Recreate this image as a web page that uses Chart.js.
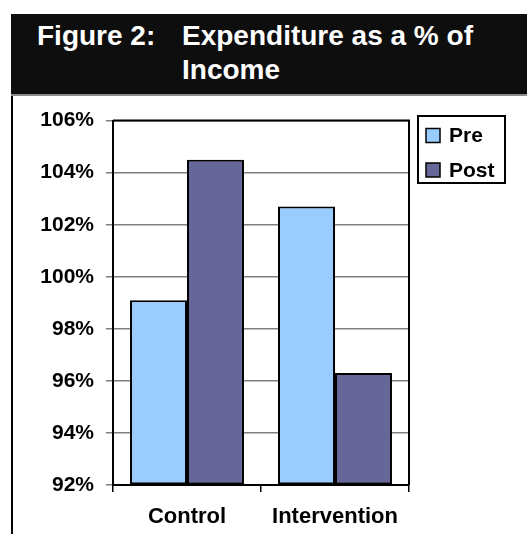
<!DOCTYPE html>
<html>
<head>
<meta charset="utf-8">
<title>Expenditure as a % of Income</title>
<script src="https://cdn.jsdelivr.net/npm/chart.js@4/dist/chart.umd.min.js"></script>
<style>
    html, body { margin: 0; padding: 0; background: #fff; }
    body { width: 527px; height: 534px; position: relative; overflow: hidden;
           font-family: 'Liberation Sans', Arial, sans-serif; }
    #frame-left { position: absolute; left: 11px; top: 14px; width: 2px; height: 520px; background: #000; }
    #title-bar { position: absolute; left: 11px; top: 14px; width: 516px; height: 80px;
                 background: #0e0e0e; border-bottom: 2px solid #8c8c8c; }
    #title-bar span { position: absolute; top: 5px; color: #fff; font-weight: bold;
                      font-size: 28px; line-height: 34px; white-space: nowrap; }
    #fig-no { left: 26px; }
    #fig-name { left: 171px; }
    #chart-wrap { position: absolute; left: 0; top: 96px; width: 527px; height: 438px; }
</style>
</head>
<body>
<div id="frame-left"></div>
<div id="title-bar">
    <span id="fig-no">Figure 2:</span>
    <span id="fig-name">Expenditure as a % of<br>Income</span>
</div>
<div id="chart-wrap"><canvas id="chart" width="527" height="438"></canvas></div>

<script>
// Expenditure as a share of income, before and after, per group
const groups = ['Control', 'Intervention'];
const preValues = [99.1, 102.7];
const postValues = [104.5, 96.3];
const seriesNames = ['Pre', 'Post'];
const yMin = 92;
const yMax = 106;
const yStep = 2;

const FONT = "'Liberation Sans', Arial, sans-serif";

// Boxed legend drawn inside the right margin
const boxLegend = {
    id: 'boxLegend',
    afterDraw(chart, args, opts) {
        const ctx = chart.ctx;
        ctx.save();
        ctx.lineWidth = 2;
        ctx.strokeStyle = '#000';
        ctx.fillStyle = '#fff';
        ctx.fillRect(opts.x, opts.y, opts.width, opts.height);
        ctx.strokeRect(opts.x, opts.y, opts.width, opts.height);
        ctx.font = 'bold 21px ' + FONT;
        ctx.textBaseline = 'middle';
        chart.data.datasets.forEach((ds, i) => {
            const cy = opts.y + opts.firstRow + i * opts.rowGap;
            const sx = opts.x + 8;
            ctx.fillStyle = ds.backgroundColor;
            ctx.fillRect(sx, cy - 7, 14, 14);
            ctx.lineWidth = 1.5;
            ctx.strokeRect(sx, cy - 7, 14, 14);
            ctx.fillStyle = '#000';
            ctx.fillText(ds.label, sx + 23, cy + 1);
        });
        ctx.restore();
    }
};

// Black outline round the plot area
const plotFrame = {
    id: 'plotFrame',
    afterDatasetsDraw(chart) {
        const { ctx, chartArea: a } = chart;
        ctx.save();
        ctx.lineWidth = 2;
        ctx.strokeStyle = '#000';
        ctx.beginPath();
        ctx.moveTo(a.left, a.top);
        ctx.lineTo(a.right, a.top);
        ctx.lineTo(a.right, a.bottom);
        ctx.stroke();
        ctx.restore();
    }
};

new Chart(document.getElementById('chart'), {
    type: 'bar',
    data: {
        labels: groups,
        datasets: [
            { label: seriesNames[0], data: preValues, backgroundColor: '#99ccff' },
            { label: seriesNames[1], data: postValues, backgroundColor: '#666699' }
        ]
    },
    options: {
        responsive: false,
        animation: false,
        layout: { padding: { left: 0, right: 118, top: 21, bottom: 0 } },
        datasets: {
            bar: {
                base: yMin,
                borderColor: '#000',
                borderWidth: 2,
                borderSkipped: false,
                categoryPercentage: 0.77,
                barPercentage: 1
            }
        },
        scales: {
            y: {
                min: yMin,
                max: yMax,
                afterFit(scale) { scale.width = 113; },
                ticks: {
                    stepSize: yStep,
                    padding: 12,
                    color: '#000',
                    font: { family: FONT, size: 21, weight: 'bold' },
                    callback: v => v + '%'
                },
                grid: { color: '#808080', lineWidth: 1.5, tickLength: 7 },
                border: { color: '#000', width: 2 }
            },
            x: {
                afterFit(scale) { scale.height = 49; },
                ticks: {
                    padding: 12,
                    color: '#000',
                    font: { family: FONT, size: 22, weight: 'bold' }
                },
                grid: { drawOnChartArea: false, color: '#000', lineWidth: 1.5, tickLength: 7 },
                border: { color: '#000', width: 2 }
            }
        },
        plugins: {
            legend: { display: false },
            tooltip: { enabled: false },
            boxLegend: { x: 418, y: 20, width: 87, height: 67, firstRow: 19.5, rowGap: 34.5 }
        }
    },
    plugins: [boxLegend, plotFrame]
});
</script>
</body>
</html>
